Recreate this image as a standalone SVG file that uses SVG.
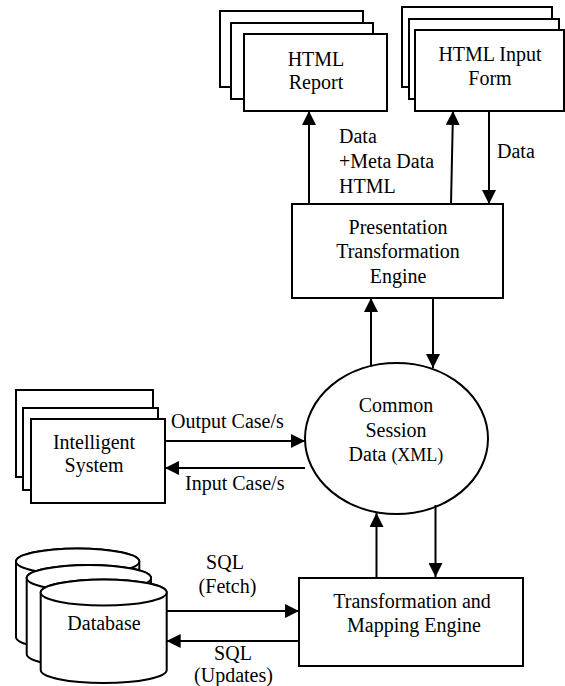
<svg xmlns="http://www.w3.org/2000/svg" width="565" height="686" viewBox="0 0 565 686">
<style>
  .box { fill: #fff; stroke: #000; stroke-width: 2; }
  .cyl { fill: #fff; stroke: #000; stroke-width: 2; }
  .lbl { font-family: "Liberation Serif", "Times New Roman", serif; font-size: 20px; fill: #000; }
  .c { text-anchor: middle; }
  .conn line { stroke: #000; stroke-width: 2; }
</style>
<defs>
  <marker id="ah" viewBox="0 0 14 14" refX="14" refY="7" markerWidth="14" markerHeight="14" markerUnits="userSpaceOnUse" orient="auto">
    <path d="M0,0 L14,7 L0,14 z" fill="#000"/>
  </marker>
</defs>
<rect width="565" height="686" fill="#fff"/>

<g id="html-report">
  <rect class="box" x="220" y="11" width="143" height="76"/>
  <rect class="box" x="231" y="23" width="142" height="76"/>
  <rect class="box" x="244" y="34" width="143" height="77"/>
  <text class="lbl c" x="316" y="66">HTML</text>
  <text class="lbl c" x="316" y="89">Report</text>
</g>

<g id="html-input-form">
  <rect class="box" x="402" y="7" width="150" height="80"/>
  <rect class="box" x="409" y="19" width="150" height="80"/>
  <rect class="box" x="415" y="30" width="149" height="81"/>
  <text class="lbl c" x="490" y="61">HTML Input</text>
  <text class="lbl c" x="490" y="85">Form</text>
</g>

<g id="presentation-engine">
  <rect class="box" x="292" y="204" width="211" height="94"/>
  <text class="lbl c" x="398" y="234">Presentation</text>
  <text class="lbl c" x="398" y="258">Transformation</text>
  <text class="lbl c" x="398" y="283">Engine</text>
</g>

<g id="common-session-data">
  <ellipse class="box" cx="396.5" cy="438.5" rx="91.5" ry="75.5"/>
  <text class="lbl c" x="396" y="412">Common</text>
  <text class="lbl c" x="396" y="437">Session</text>
  <text class="lbl c" x="396" y="461">Data <tspan font-size="18">(XML)</tspan></text>
</g>

<g id="intelligent-system">
  <rect class="box" x="16" y="390" width="137" height="87"/>
  <rect class="box" x="23" y="408" width="135" height="82"/>
  <rect class="box" x="31" y="419" width="134" height="84"/>
  <text class="lbl c" x="94" y="449">Intelligent</text>
  <text class="lbl c" x="94" y="472">System</text>
</g>

<g id="database">
  <path class="cyl" d="M16,561.5 A61.65,13 0 0 1 139.3,561.5 L139.3,637 A61.65,13 0 0 1 16,637 Z"/>
  <ellipse class="cyl" cx="77.65" cy="561.5" rx="61.65" ry="13"/>
  <path class="cyl" d="M26.7,578 A62.15,13 0 0 1 151,578 L151,654 A62.15,13 0 0 1 26.7,654 Z"/>
  <ellipse class="cyl" cx="88.85" cy="578" rx="62.15" ry="13"/>
  <path class="cyl" d="M40.7,592.5 A63,13 0 0 1 166.7,592.5 L166.7,670 A63,13 0 0 1 40.7,670 Z"/>
  <ellipse class="cyl" cx="103.7" cy="592.5" rx="63" ry="13"/>
  <text class="lbl c" x="104" y="630">Database</text>
</g>

<g id="transformation-mapping-engine">
  <rect class="box" x="299" y="578" width="224" height="88"/>
  <text class="lbl c" x="412" y="608">Transformation and</text>
  <text class="lbl c" x="414" y="632">Mapping Engine</text>
</g>

<g id="connectors" class="conn">
  <line x1="309" y1="204" x2="309" y2="111" marker-end="url(#ah)"/>
  <line x1="451" y1="204" x2="453" y2="111" marker-end="url(#ah)"/>
  <line x1="489" y1="111" x2="489" y2="204" marker-end="url(#ah)"/>
  <line x1="371" y1="367" x2="371" y2="298" marker-end="url(#ah)"/>
  <line x1="433" y1="298" x2="433" y2="368" marker-end="url(#ah)"/>
  <line x1="165" y1="441" x2="305" y2="441" marker-end="url(#ah)"/>
  <line x1="305" y1="468" x2="165" y2="468" marker-end="url(#ah)"/>
  <line x1="376.5" y1="578" x2="376.5" y2="513" marker-end="url(#ah)"/>
  <line x1="435.5" y1="505" x2="435.5" y2="577" marker-end="url(#ah)"/>
  <line x1="166.7" y1="611" x2="299" y2="611" marker-end="url(#ah)"/>
  <line x1="299" y1="641" x2="166.7" y2="641" marker-end="url(#ah)"/>
</g>

<g id="connector-labels">
  <text class="lbl" x="339" y="143">Data</text>
  <text class="lbl" x="339" y="168">+Meta Data</text>
  <text class="lbl" x="339" y="193">HTML</text>
  <text class="lbl" x="497" y="158">Data</text>
  <text class="lbl" x="171" y="428">Output Case/s</text>
  <text class="lbl" x="185" y="490">Input Case/s</text>
  <text class="lbl c" x="225" y="569">SQL</text>
  <text class="lbl c" x="227.5" y="593">(Fetch)</text>
  <text class="lbl c" x="233" y="660">SQL</text>
  <text class="lbl c" x="233.5" y="682">(Updates)</text>
</g>
</svg>
